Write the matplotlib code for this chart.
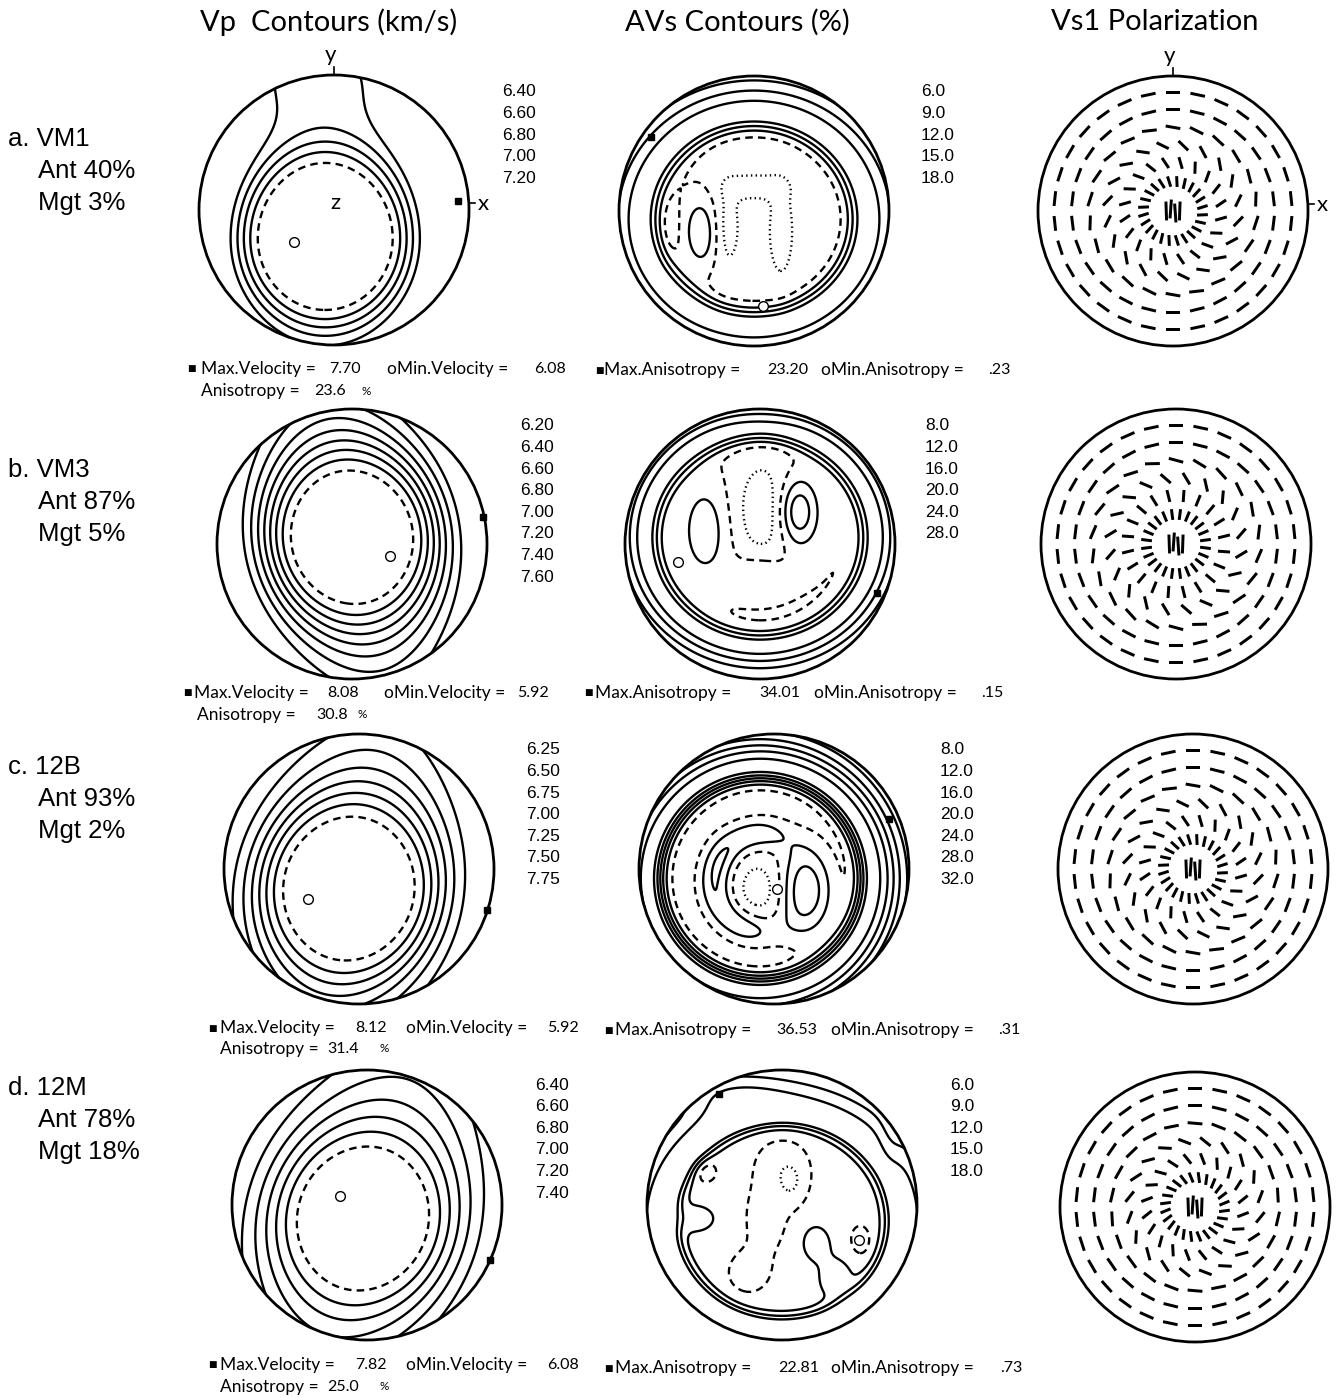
import matplotlib.pyplot as plt
import numpy as np
from matplotlib.patches import Circle

plt.rcParams["font.family"] = ["Lato", "DejaVu Sans"]

W, H = 1338, 1398

# ---- sample data -------------------------------------------------------
SAMPLES = ["a. VM1", "b. VM3", "c. 12B", "d. 12M"]
ANT = ["Ant 40%", "Ant 87%", "Ant 93%", "Ant 78%"]
MGT = ["Mgt 3%", "Mgt 5%", "Mgt 2%", "Mgt 18%"]

VP_LEVELS = [
    [6.40, 6.60, 6.80, 7.00, 7.20],
    [6.20, 6.40, 6.60, 6.80, 7.00, 7.20, 7.40, 7.60],
    [6.25, 6.50, 6.75, 7.00, 7.25, 7.50, 7.75],
    [6.40, 6.60, 6.80, 7.00, 7.20, 7.40],
]
AVS_LEVELS = [
    [6.0, 9.0, 12.0, 15.0, 18.0],
    [8.0, 12.0, 16.0, 20.0, 24.0, 28.0],
    [8.0, 12.0, 16.0, 20.0, 24.0, 28.0, 32.0],
    [6.0, 9.0, 12.0, 15.0, 18.0],
]

VP_MAX = [7.70, 8.08, 8.12, 7.82]
VP_MIN = [6.08, 5.92, 5.92, 6.08]
VP_ANIS = [23.6, 30.8, 31.4, 25.0]
AVS_MAX = ["23.20", "34.01", "36.53", "22.81"]
AVS_MIN = [".23", ".15", ".31", ".73"]

# marker positions on the unit net (x east, y north)
VP_MAX_POS = [(0.92, 0.07), (0.97, 0.20), (0.95, -0.30), (0.91, -0.41)]
VP_MIN_POS = [(-0.30, -0.24), (0.28, -0.09), (-0.38, -0.22), (-0.20, 0.07)]
AVS_MAX_POS = [(-0.76, 0.55), (0.87, -0.36), (0.85, 0.37), (-0.47, 0.82)]
AVS_MIN_POS = [(0.07, -0.70), (-0.61, -0.13), (0.02, -0.15), (0.57, -0.26)]

# Vp surfaces: centre x, centre y, tilt (deg), stretch towards the upper and
# lower rim, minimum, span, half-rise radius, steepness
VP_SHAPE = [
    (-0.065, -0.21, 0, 0.80, 0.45, 6.08, 1.80, 0.645, 6.0),
    (0.0, 0.05, 12, 0.85, 0.85, 5.92, 2.30, 0.66, 5.2),
    (-0.075, -0.145, -12, 0.75, 0.75, 5.92, 2.40, 0.684, 5.35),
    (-0.03, -0.10, -18, 0.80, 0.80, 6.08, 1.90, 0.713, 4.15),
]
# low saddles that only act on the outer part of the surface:
# x, y, sx, sy, depth, onset radius
VP_SADDLES = [
    [(-0.18, 1.05, 0.55, 0.30, -0.50, 0.68)],
    [],
    [],
    [],
]

# AVs surfaces: centre x, centre y, x scale, y scale, tilt,
# inner value, ridge value, ridge radius, inner width, outer width
AVS_SHAPE = [
    (0.0, -0.06, 1.06, 1.0, 0, 7.5, 20.0, 0.77, 0.08, 0.18),
    (0.0, 0.05, 1.0, 0.95, 0, 11.0, 26.0, 0.84, 0.07, 0.12),
    (-0.10, -0.07, 1.0, 1.0, 0, 10.0, 34.0, 0.82, 0.075, 0.16),
    (0.0, -0.12, 1.0, 0.92, 0, 10.5, 21.0, 0.84, 0.06, 0.20),
]
# local highs/lows: x, y, sx, sy, height
AVS_BUMPS = [
    [(-0.45, -0.10, 0.12, 0.25, 2.5), (-0.38, -0.18, 0.085, 0.19, 4.5),
     (-0.62, -0.12, 0.05, 0.14, -2.0), (-0.20, -0.12, 0.07, 0.22, -3.0),
     (0.00, 0.18, 0.16, 0.07, -3.0), (0.20, -0.15, 0.07, 0.25, -3.0)],
    [(0.0, 0.10, 0.45, 0.45, 2.5), (0.02, 0.23, 0.17, 0.30, -8.0),
     (-0.41, 0.10, 0.12, 0.245, 6.0), (0.28, 0.24, 0.098, 0.17, 12.0),
     (0.0, -0.24, 0.13, 0.108, 5.0)],
    [(-0.40, 0.0, 0.09, 0.18, 2.0), (0.22, -0.16, 0.142, 0.223, 14.0),
     (-0.05, -0.15, 0.16, 0.15, -5.0)],
    [(0.0, 0.30, 0.15, 0.15, -3.0), (-0.12, -0.10, 0.12, 0.20, -3.0),
     (-0.25, -0.50, 0.12, 0.12, -3.0), (0.08, 0.15, 0.08, 0.12, -3.0),
     (-0.57, 0.25, 0.07, 0.07, -3.0), (0.58, -0.26, 0.06, 0.09, -3.0),
     (-0.65, -0.10, 0.12, 0.08, 3.0), (0.25, -0.28, 0.08, 0.10, 3.0),
     (0.40, -0.55, 0.10, 0.12, 3.0),
     (-0.45, 0.85, 0.30, 0.12, 4.0), (0.80, 0.45, 0.07, 0.15, -2.0)],
]
# curved ridges: centre x, centre y, radius, width, facing (deg), half span, height
AVS_ARCS = [
    [],
    [],
    [(-0.08, -0.10, 0.36, 0.083, 171, 105, 9.0)],
    [],
]

# Vs1 polarisation: rings of sample points and the dash angle to the radius
VS1_RADII = [0.22, 0.36, 0.49, 0.62, 0.75, 0.88]
VS1_COUNTS = [24, 20, 20, 22, 26, 30]
VS1_LENGTH = [0.08, 0.09, 0.10, 0.11, 0.11, 0.11]
VS1_TWIST = [
    [10, 25, 55, 80, 90, 90],
    [0, 5, 40, 75, 90, 90],
    [10, 25, 55, 80, 90, 90],
    [15, 30, 60, 85, 90, 90],
]
VS1_CORE_X = [-0.05, -0.017, 0.017, 0.05]
VS1_CORE_Y = [0.0, 0.015, -0.015, 0.0]
VS1_CORE_ANG = [92, 86, 94, 88]

# ---- layout (pixels from top-left) -----------------------------------
VP_XY = [(334, 210), (352, 544), (359, 869), (367, 1205)]
AVS_XY = [(754, 211), (760, 544), (774, 869), (782, 1205)]
VS1_XY = [(1173, 211), (1176, 544), (1193, 869), (1195, 1207)]
R = 135
LW = 1.7

fig = plt.figure(figsize=(W / 100, H / 100), dpi=100)


def fx(x):
    return x / W


def fy(y):
    return 1 - y / H


def net_axes(cx, cy):
    ax = fig.add_axes([fx(cx - R), fy(cy + R), 2 * R / W, 2 * R / H])
    ax.set_xlim(-1, 1)
    ax.set_ylim(-1, 1)
    ax.set_axis_off()
    rim = Circle((0, 0), 1, fill=False, lw=2.0, color="k", clip_on=False)
    ax.add_patch(rim)
    return ax


g = np.linspace(-1.05, 1.05, 421)
X, Y = np.meshgrid(g, g)


def rotated(cx, cy, ang):
    t = np.deg2rad(ang)
    dx, dy = X - cx, Y - cy
    return dx * np.cos(t) + dy * np.sin(t), -dx * np.sin(t) + dy * np.cos(t)


def gauss(bx, by, bsx, bsy):
    return np.exp(-0.5 * (((X - bx) / bsx) ** 2 + ((Y - by) / bsy) ** 2))


def add_bumps(Z, bumps, arcs=()):
    for bx, by, bsx, bsy, h in bumps:
        Z = Z + h * gauss(bx, by, bsx, bsy)
    for ax_, ay_, rho0, srho, face, half, h in arcs:
        rho = np.hypot(X - ax_, Y - ay_)
        th = np.degrees(np.arctan2(Y - ay_, X - ax_))
        dth = (th - face + 180) % 360 - 180
        window = 1 / (1 + (np.abs(dth) / half) ** 8)
        Z = Z + h * window * np.exp(-0.5 * ((rho - rho0) / srho) ** 2)
    return Z


def vp_surface(shape, saddles):
    cx, cy, ang, k_up, k_dn, vmin, span, qh, p = shape
    u, v = rotated(cx, cy, ang)
    k = np.where(v > 0, k_up, k_dn)
    q = np.hypot(u, v / np.sqrt(1 + k * (u ** 2 + v ** 2)))
    s = (q / qh) ** p
    Z = vmin + span * s / (1 + s)
    for bx, by, bsx, bsy, h, q_on in saddles:
        gate = 1 / (1 + np.exp(-(q - q_on) / 0.02))
        Z = Z + h * gate * gauss(bx, by, bsx, bsy)
    return Z


def avs_surface(shape, bumps, arcs):
    cx, cy, sx, sy, ang, base, peak, r0, w_in, w_out = shape
    u, v = rotated(cx, cy, ang)
    q = np.hypot(u / sx, v / sy)
    w = np.where(q < r0, w_in, w_out)
    Z = base + (peak - base) * np.exp(-0.5 * ((q - r0) / w) ** 2)
    return add_bumps(Z, bumps, arcs)


DOT = (0, (0.6, 1.4))
DASH = (0, (3.2, 2.2))


def draw_contours(ax, Z, levels, styles):
    cs = ax.contour(X, Y, Z, levels=levels, colors="k", linewidths=LW,
                    linestyles=styles)
    cs.set_clip_path(Circle((0, 0), 1, transform=ax.transData))


def markers(ax, pmax, pmin):
    ax.plot(*pmax, "s", ms=5, color="k", clip_on=False)
    ax.plot(*pmin, "o", ms=7, mfc="white", mec="k", mew=1.0, clip_on=False)


# column titles
for x, s in [(329, "Vp  Contours (km/s)"), (737, "AVs Contours (%)"),
             (1155, "Vs1 Polarization")]:
    fig.text(fx(x), fy(22), s, fontsize=21, ha="center", va="center")

ROW_Y = [139, 470, 767, 1088]
for i in range(4):
    y0 = ROW_Y[i]
    for dx, dy, s in [(8, 0, SAMPLES[i]), (38, 32, ANT[i]), (38, 64, MGT[i])]:
        fig.text(fx(dx), fy(y0 + dy), s, fontsize=18.5, family="Liberation Sans",
                 va="center")

VP_LAB_X = [502, 520, 526, 535]
AVS_LAB_X = [921, 925, 940, 950]
LAB_Y0 = [92, 426, 750, 1085]
STEP = 21.6

STAT_Y = [369, 693, 1028, 1365]
ANIS_Y = [391, 715, 1049, 1387]
VP_STAT_X = [(187, 201, 329, 387, 534), (183, 194, 327, 384, 517),
             (208, 220, 355, 406, 547), (208, 220, 355, 406, 547)]
VP_ANIS_X = [(201, 314, 361), (197, 316, 357), (220, 327, 380), (220, 327, 380)]
AVS_STAT_X = [(595, 604, 767, 821, 988), (584, 595, 759, 814, 981),
              (604, 615, 776, 831, 998), (604, 615, 778, 831, 1000)]
AVS_STAT_Y = [370, 693, 1030, 1368]

for i in range(4):
    # Vp pole figure
    cx, cy = VP_XY[i]
    ax = net_axes(cx, cy)
    Z = vp_surface(VP_SHAPE[i], VP_SADDLES[i])
    styles = [DASH] + ["solid"] * (len(VP_LEVELS[i]) - 1)
    draw_contours(ax, Z, VP_LEVELS[i], styles)
    markers(ax, VP_MAX_POS[i], VP_MIN_POS[i])
    for k, lev in enumerate(VP_LEVELS[i]):
        fig.text(fx(VP_LAB_X[i]), fy(LAB_Y0[i] + k * STEP), f"{lev:.2f}",
                 fontsize=12.5, family="Liberation Sans", va="center")

    sx, lx, vx, mx, nx = VP_STAT_X[i]
    yy = fy(STAT_Y[i])
    fig.text(fx(sx), yy, "\u25a0", fontsize=6.5, va="center", family="DejaVu Sans")
    fig.text(fx(lx), yy, "Max.Velocity =", fontsize=12.5, va="center")
    fig.text(fx(vx), yy, f"{VP_MAX[i]:.2f}", fontsize=11.5, va="center")
    fig.text(fx(mx), yy, "oMin.Velocity =", fontsize=12.5, va="center")
    fig.text(fx(nx), yy, f"{VP_MIN[i]:.2f}", fontsize=11.5, va="center")
    ax_, av_, pc_ = VP_ANIS_X[i]
    ya = fy(ANIS_Y[i])
    fig.text(fx(ax_), ya, "Anisotropy =", fontsize=12.5, va="center")
    fig.text(fx(av_), ya, f"{VP_ANIS[i]:.1f}", fontsize=11.5, va="center")
    fig.text(fx(pc_), ya, "%", fontsize=8.5, va="center")

    # AVs pole figure
    cx, cy = AVS_XY[i]
    ax = net_axes(cx, cy)
    Z = avs_surface(AVS_SHAPE[i], AVS_BUMPS[i], AVS_ARCS[i])
    styles = [DOT, DASH] + ["solid"] * (len(AVS_LEVELS[i]) - 2)
    draw_contours(ax, Z, AVS_LEVELS[i], styles)
    markers(ax, AVS_MAX_POS[i], AVS_MIN_POS[i])
    for k, lev in enumerate(AVS_LEVELS[i]):
        fig.text(fx(AVS_LAB_X[i]), fy(LAB_Y0[i] + k * STEP), f"{lev:.1f}",
                 fontsize=12.5, family="Liberation Sans", va="center")
    sx, lx, vx, mx, nx = AVS_STAT_X[i]
    yy = fy(AVS_STAT_Y[i])
    fig.text(fx(sx), yy, "\u25a0", fontsize=6.5, va="center", family="DejaVu Sans")
    fig.text(fx(lx), yy, "Max.Anisotropy =", fontsize=12.5, va="center")
    fig.text(fx(vx), yy, AVS_MAX[i], fontsize=11.5, va="center")
    fig.text(fx(mx), yy, "oMin.Anisotropy =", fontsize=12.5, va="center")
    fig.text(fx(nx), yy, AVS_MIN[i], fontsize=11.5, va="center")

    # Vs1 polarisation
    cx, cy = VS1_XY[i]
    ax = net_axes(cx, cy)
    px, py, pu, pv = [], [], [], []
    for r, n, ln, tw in zip(VS1_RADII, VS1_COUNTS, VS1_LENGTH, VS1_TWIST[i]):
        az = np.linspace(0, 2 * np.pi, n, endpoint=False) + np.pi / n
        ang = az + np.deg2rad(tw)
        px += list(r * np.cos(az))
        py += list(r * np.sin(az))
        pu += list(ln * np.cos(ang))
        pv += list(ln * np.sin(ang))
    for x0, y0, a0 in zip(VS1_CORE_X, VS1_CORE_Y, VS1_CORE_ANG):
        px.append(x0)
        py.append(y0)
        pu.append(0.14 * np.cos(np.deg2rad(a0)))
        pv.append(0.14 * np.sin(np.deg2rad(a0)))
    ax.quiver(px, py, pu, pv, angles="xy", scale_units="xy", scale=1,
              pivot="middle", headwidth=0, headlength=0, headaxislength=0,
              width=0.011, color="k")

# axis letters on the first row
for cx, cy in [VP_XY[0], VS1_XY[0]]:
    fig.text(fx(cx - 3), fy(cy - R - 20), "y", fontsize=16, ha="center", va="center")
    fig.add_artist(plt.Line2D([fx(cx), fx(cx)], [fy(cy - R), fy(cy - R - 8)],
                              color="k", lw=1.2))
    fig.text(fx(cx + R + 14), fy(cy - 6), "x", fontsize=16, ha="center", va="center")
    fig.add_artist(plt.Line2D([fx(cx + R), fx(cx + R + 6)], [fy(cy - 7), fy(cy - 7)],
                              color="k", lw=1.2))
fig.text(fx(VP_XY[0][0] + 1), fy(203), "z", fontsize=16, ha="center", va="center")

fig.savefig("out.png", dpi=100)
